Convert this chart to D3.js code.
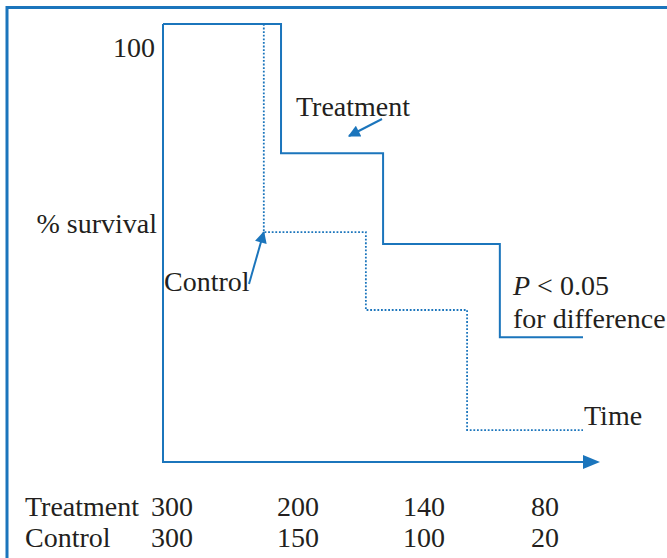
<!DOCTYPE html>
<html>
<head>
<meta charset="utf-8">
<script src="https://cdn.jsdelivr.net/npm/d3@7"></script>
<style>
  html, body { margin: 0; padding: 0; background: #fff; }
  svg { display: block; }
  text { font-family: "Liberation Serif", "Times New Roman", serif; fill: #231f20; }
</style>
</head>
<body>
<script>
// ---------- data ----------
const treatmentTimes = [0, 2.81, 5.24, 8.02, 10];
const treatmentSurvival = [100, 70.5, 49.8, 28.5];
const controlTimes = [0, 2.40, 4.83, 7.24, 10];
const controlSurvival = [100, 52.5, 34.7, 7.3];
const groups = ["Treatment", "Control"];
const atRiskTimes = [0, 3, 6, 9.05];
const atRiskTreatment = [300, 200, 140, 80];
const atRiskControl = [300, 150, 100, 20];
const yTickLabel = ["100"];

// ---------- setup ----------
const W = 667, H = 558;
const blue = "#1b75bc";
const svg = d3.select("body").append("svg").attr("width", W).attr("height", H);

const x = d3.scaleLinear().domain([0, 10]).range([163, 583]);
const y = d3.scaleLinear().domain([0, 100]).range([462, 24]);

// frame (top and left edges)
svg.append("line").attr("x1", 7).attr("x2", W).attr("y1", 7.5).attr("y2", 7.5)
  .attr("stroke", blue).attr("stroke-width", 3);
svg.append("line").attr("x1", 7).attr("x2", 7).attr("y1", 6).attr("y2", H)
  .attr("stroke", blue).attr("stroke-width", 3);

// defs for arrowheads
const defs = svg.append("defs");
defs.append("marker").attr("id", "ah").attr("viewBox", "0 0 10 10")
  .attr("refX", 9).attr("refY", 5).attr("markerWidth", 14).attr("markerHeight", 12)
  .attr("markerUnits", "userSpaceOnUse").attr("orient", "auto")
  .append("path").attr("d", "M0,0 L10,5 L0,10 Z").attr("fill", blue);

// step path builder
function stepPath(times, vals) {
  const pts = [];
  for (let i = 0; i < vals.length; i++) {
    pts.push([times[i], vals[i]]);
    pts.push([times[i + 1], vals[i]]);
  }
  return d3.line().x(d => x(d[0])).y(d => y(d[1]))(pts);
}

// y axis line
svg.append("line").attr("x1", x(0)).attr("x2", x(0)).attr("y1", y(100)).attr("y2", y(0))
  .attr("stroke", blue).attr("stroke-width", 2);

// x axis with arrow
svg.append("line").attr("x1", x(0) - 1).attr("x2", x(10)).attr("y1", y(0)).attr("y2", y(0))
  .attr("stroke", blue).attr("stroke-width", 2);
svg.append("path")
  .attr("d", `M${x(10)},${y(0) - 7} L${x(10) + 17},${y(0)} L${x(10)},${y(0) + 7} Z`)
  .attr("fill", blue);

// curves
svg.append("path").attr("d", stepPath(controlTimes, controlSurvival))
  .attr("fill", "none").attr("stroke", blue).attr("stroke-width", 1.8)
  .attr("stroke-dasharray", "1.8,1.8");
svg.append("path").attr("d", stepPath(treatmentTimes, treatmentSurvival))
  .attr("fill", "none").attr("stroke", blue).attr("stroke-width", 2);

// text helper
const FS = 28, SX = 1.0;
function txt(str, px, py, anchor) {
  const g = svg.append("g").attr("transform", `translate(${px},${py}) scale(${SX},1)`);
  return g.append("text").attr("text-anchor", anchor || "start")
    .attr("font-size", FS).text(str);
}

// y labels
txt(yTickLabel[0], 155, 57, "end");
txt("% survival", 157, 233, "end");

// annotations
txt(groups[0], 296, 116);
svg.append("line").attr("x1", 382).attr("y1", 119).attr("x2", 349).attr("y2", 136)
  .attr("stroke", blue).attr("stroke-width", 2).attr("marker-end", "url(#ah)");
txt(groups[1], 164, 291);
svg.append("line").attr("x1", 249).attr("y1", 284).attr("x2", x(controlTimes[1])).attr("y2", y(controlSurvival[1]))
  .attr("stroke", blue).attr("stroke-width", 2).attr("marker-end", "url(#ah)");

// P value
const pg = svg.append("g").attr("transform", `translate(513,295) scale(${SX},1)`);
const pt = pg.append("text").attr("font-size", FS);
pt.append("tspan").attr("font-style", "italic").text("P");
pt.append("tspan").text(" < 0.05");
txt("for difference", 513, 328);

txt("Time", 584, 425);

// numbers at risk table
txt(groups[0], 25, 516);
txt(groups[1], 25, 547);
atRiskTimes.forEach((t, i) => {
  txt(String(atRiskTreatment[i]), x(t) - 12, 516);
  txt(String(atRiskControl[i]), x(t) - 12, 547);
});
</script>
</body>
</html>
